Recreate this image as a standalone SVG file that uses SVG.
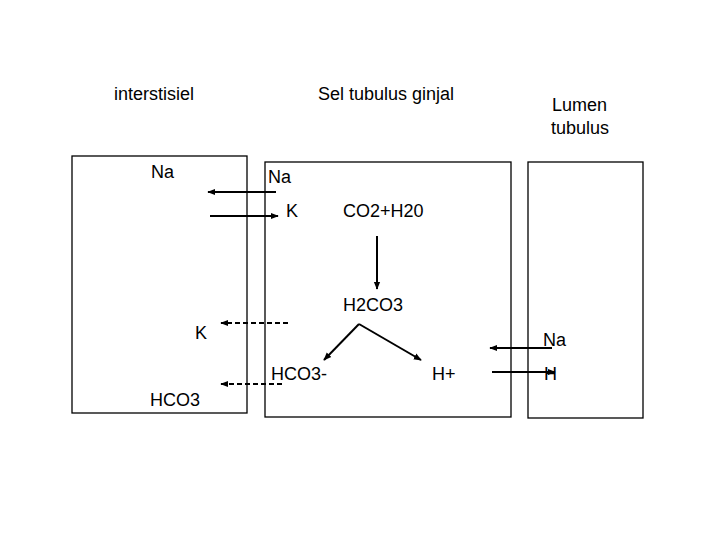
<svg xmlns="http://www.w3.org/2000/svg" width="720" height="540" viewBox="0 0 720 540">
<style>
text{font-family:"Liberation Sans",Arial,sans-serif;font-size:18px;fill:#000}
.box{fill:none;stroke:#000;stroke-width:1.3}
.a{stroke:#000;stroke-width:2;fill:none}
.d{stroke:#000;stroke-width:2;fill:none;stroke-dasharray:5,3}
</style>
<defs>
<marker id="ah" viewBox="0 0 10 10" refX="9" refY="5" markerWidth="4" markerHeight="4" orient="auto"><path d="M0,1 L10,5 L0,9 z" fill="#000"/></marker>
</defs>
<rect width="720" height="540" fill="#fff"/>
<g id="titles">
<text x="114" y="100">interstisiel</text>
<text x="318" y="100">Sel tubulus ginjal</text>
<text x="552" y="111">Lumen</text>
<text x="551" y="134">tubulus</text>
</g>
<g id="interstisiel"><rect class="box" x="72" y="156" width="175" height="257"/></g>
<g id="sel"><rect class="box" x="265" y="162" width="246" height="255"/></g>
<g id="lumen"><rect class="box" x="528" y="162" width="115" height="256"/></g>
<g id="connectors">
<line class="a" x1="276" y1="192" x2="208" y2="192" marker-end="url(#ah)"/>
<line class="a" x1="210" y1="216" x2="278" y2="216" marker-end="url(#ah)"/>
<line class="a" x1="377" y1="236" x2="377" y2="289" marker-end="url(#ah)"/>
<line class="d" x1="288" y1="323" x2="221" y2="323" marker-end="url(#ah)"/>
<line class="d" x1="282" y1="384" x2="221" y2="384" marker-end="url(#ah)"/>
<line class="a" x1="359" y1="324" x2="324" y2="360" marker-end="url(#ah)"/>
<line class="a" x1="359" y1="324" x2="421" y2="360" marker-end="url(#ah)"/>
<line class="a" x1="552" y1="348" x2="490" y2="348" marker-end="url(#ah)"/>
<line class="a" x1="492" y1="372" x2="555" y2="372" marker-end="url(#ah)"/>
</g>
<g id="labels">
<text x="151" y="178">Na</text>
<text x="268" y="183">Na</text>
<text x="286" y="217">K</text>
<text x="343" y="217">CO2+H20</text>
<text x="343" y="311">H2CO3</text>
<text x="195" y="339">K</text>
<text x="543" y="346">Na</text>
<text x="271" y="380">HCO3-</text>
<text x="432" y="380">H+</text>
<text x="544" y="380">H</text>
<text x="150" y="406">HCO3</text>
</g>
</svg>
